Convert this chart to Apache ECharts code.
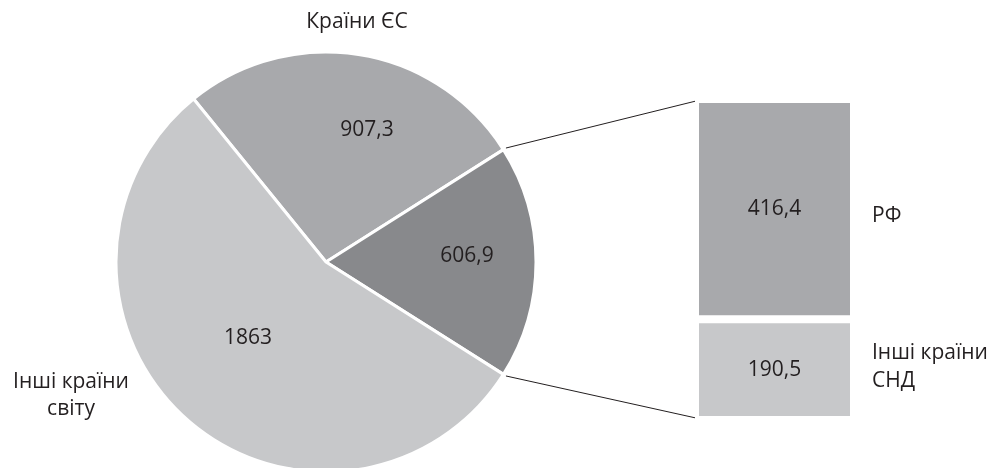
<!DOCTYPE html>
<html><head><meta charset="utf-8">
<script src="https://cdn.jsdelivr.net/npm/echarts@6/dist/echarts.min.js"></script>
<style>html,body{margin:0;padding:0;background:#fff}#c{width:994px;height:468px}</style>
</head><body><div id="c"></div>
<script>
// ---- data ----
const pieNames = ['Країни ЄС', 'Країни СНД', 'Інші країни\nсвіту'];
const pieValues = [907.3, 606.9, 1863];
const barNames = ['Інші країни\nСНД', 'РФ'];   // bottom to top
const barValues = [190.5, 416.4];

// ---- style / layout ----
const FONT = 'Open Sans';
const FS = 21;
const TXT = '#231f20';
const pieColors = ['#a8a9ac', '#88898c', '#c7c8ca'];
const barColors = ['#c7c8ca', '#a8a9ac'];
const CX = 326, CY = 262, R = 210;
const pieLabelOffsets = [[41, -132], [141, -6], [-78, 76]];
const pieNamePos = [[357, 22], null, [71, 396]];
const G = {left: 695, top: 99, width: 159, height: 321};
const barNamePos = [[872, 367], [872, 216]];

const total = pieValues.reduce((a, b) => a + b, 0);
const startAngle = 360 * (pieValues[0] + pieValues[1] / 2) / total;
const fmt = v => String(v).replace('.', ',');

const chart = echarts.init(document.getElementById('c'), null, {renderer: 'canvas'});

const a1 = (startAngle - 360 * pieValues[0] / total) * Math.PI / 180;
const a2 = (startAngle - 360 * (pieValues[0] + pieValues[1]) / total) * Math.PI / 180;
const rr = R + 3;
const barLeft = G.left + 2, barTop = G.top + 2, barBottom = G.top + G.height - 2;

const graphics = [];
graphics.push({type: 'line', silent: true, shape: {x1: CX + rr * Math.cos(a1), y1: CY - rr * Math.sin(a1), x2: barLeft - 1, y2: barTop}, style: {stroke: TXT, lineWidth: 1}});
graphics.push({type: 'line', silent: true, shape: {x1: CX + rr * Math.cos(a2), y1: CY - rr * Math.sin(a2), x2: barLeft - 1, y2: barBottom}, style: {stroke: TXT, lineWidth: 1}});
pieNames.forEach((n, i) => {
  const p = pieNamePos[i];
  if (!p) return;
  graphics.push({type: 'text', x: p[0], y: p[1], silent: true, style: {text: n, fill: TXT, font: FS + 'px "' + FONT + '"', textAlign: 'center', textVerticalAlign: 'middle', lineHeight: 27}});
});
barNames.forEach((n, i) => {
  const p = barNamePos[i];
  graphics.push({type: 'text', x: p[0], y: p[1], silent: true, style: {text: n, fill: TXT, font: FS + 'px "' + FONT + '"', textAlign: 'left', textVerticalAlign: 'middle', lineHeight: 28}});
});

const option = {
  animation: false,
  backgroundColor: '#fff',
  textStyle: {fontFamily: FONT},
  grid: {left: G.left, top: G.top, width: G.width, height: G.height},
  xAxis: {type: 'category', data: ['x'], show: false},
  yAxis: {type: 'value', min: 0, max: barValues.reduce((a, b) => a + b, 0), show: false},
  series: [
    {
      type: 'pie',
      center: [CX, CY],
      radius: [0, R],
      startAngle: startAngle,
      clockwise: true,
      silent: true,
      data: pieValues.map((v, i) => ({name: pieNames[i], value: v, itemStyle: {color: pieColors[i]}})),
      itemStyle: {borderColor: '#fff', borderWidth: 3},
      label: {show: true, position: 'inside', formatter: p => fmt(p.value), color: TXT, fontSize: FS, fontFamily: FONT},
      labelLine: {show: false},
      labelLayout: function (params) {
        const o = pieLabelOffsets[params.dataIndex];
        return {x: CX + o[0], y: CY + o[1], align: 'center', verticalAlign: 'middle'};
      }
    }
  ].concat(barValues.map((v, i) => ({
    type: 'bar',
    stack: 'cis',
    silent: true,
    barWidth: '100%',
    data: [v],
    itemStyle: {color: barColors[i], borderColor: '#fff', borderWidth: 4},
    label: {show: true, position: 'inside', formatter: p => fmt(p.value), color: TXT, fontSize: FS, fontFamily: FONT}
  }))),
  graphic: graphics
};
chart.setOption(option);
</script>
</body></html>
